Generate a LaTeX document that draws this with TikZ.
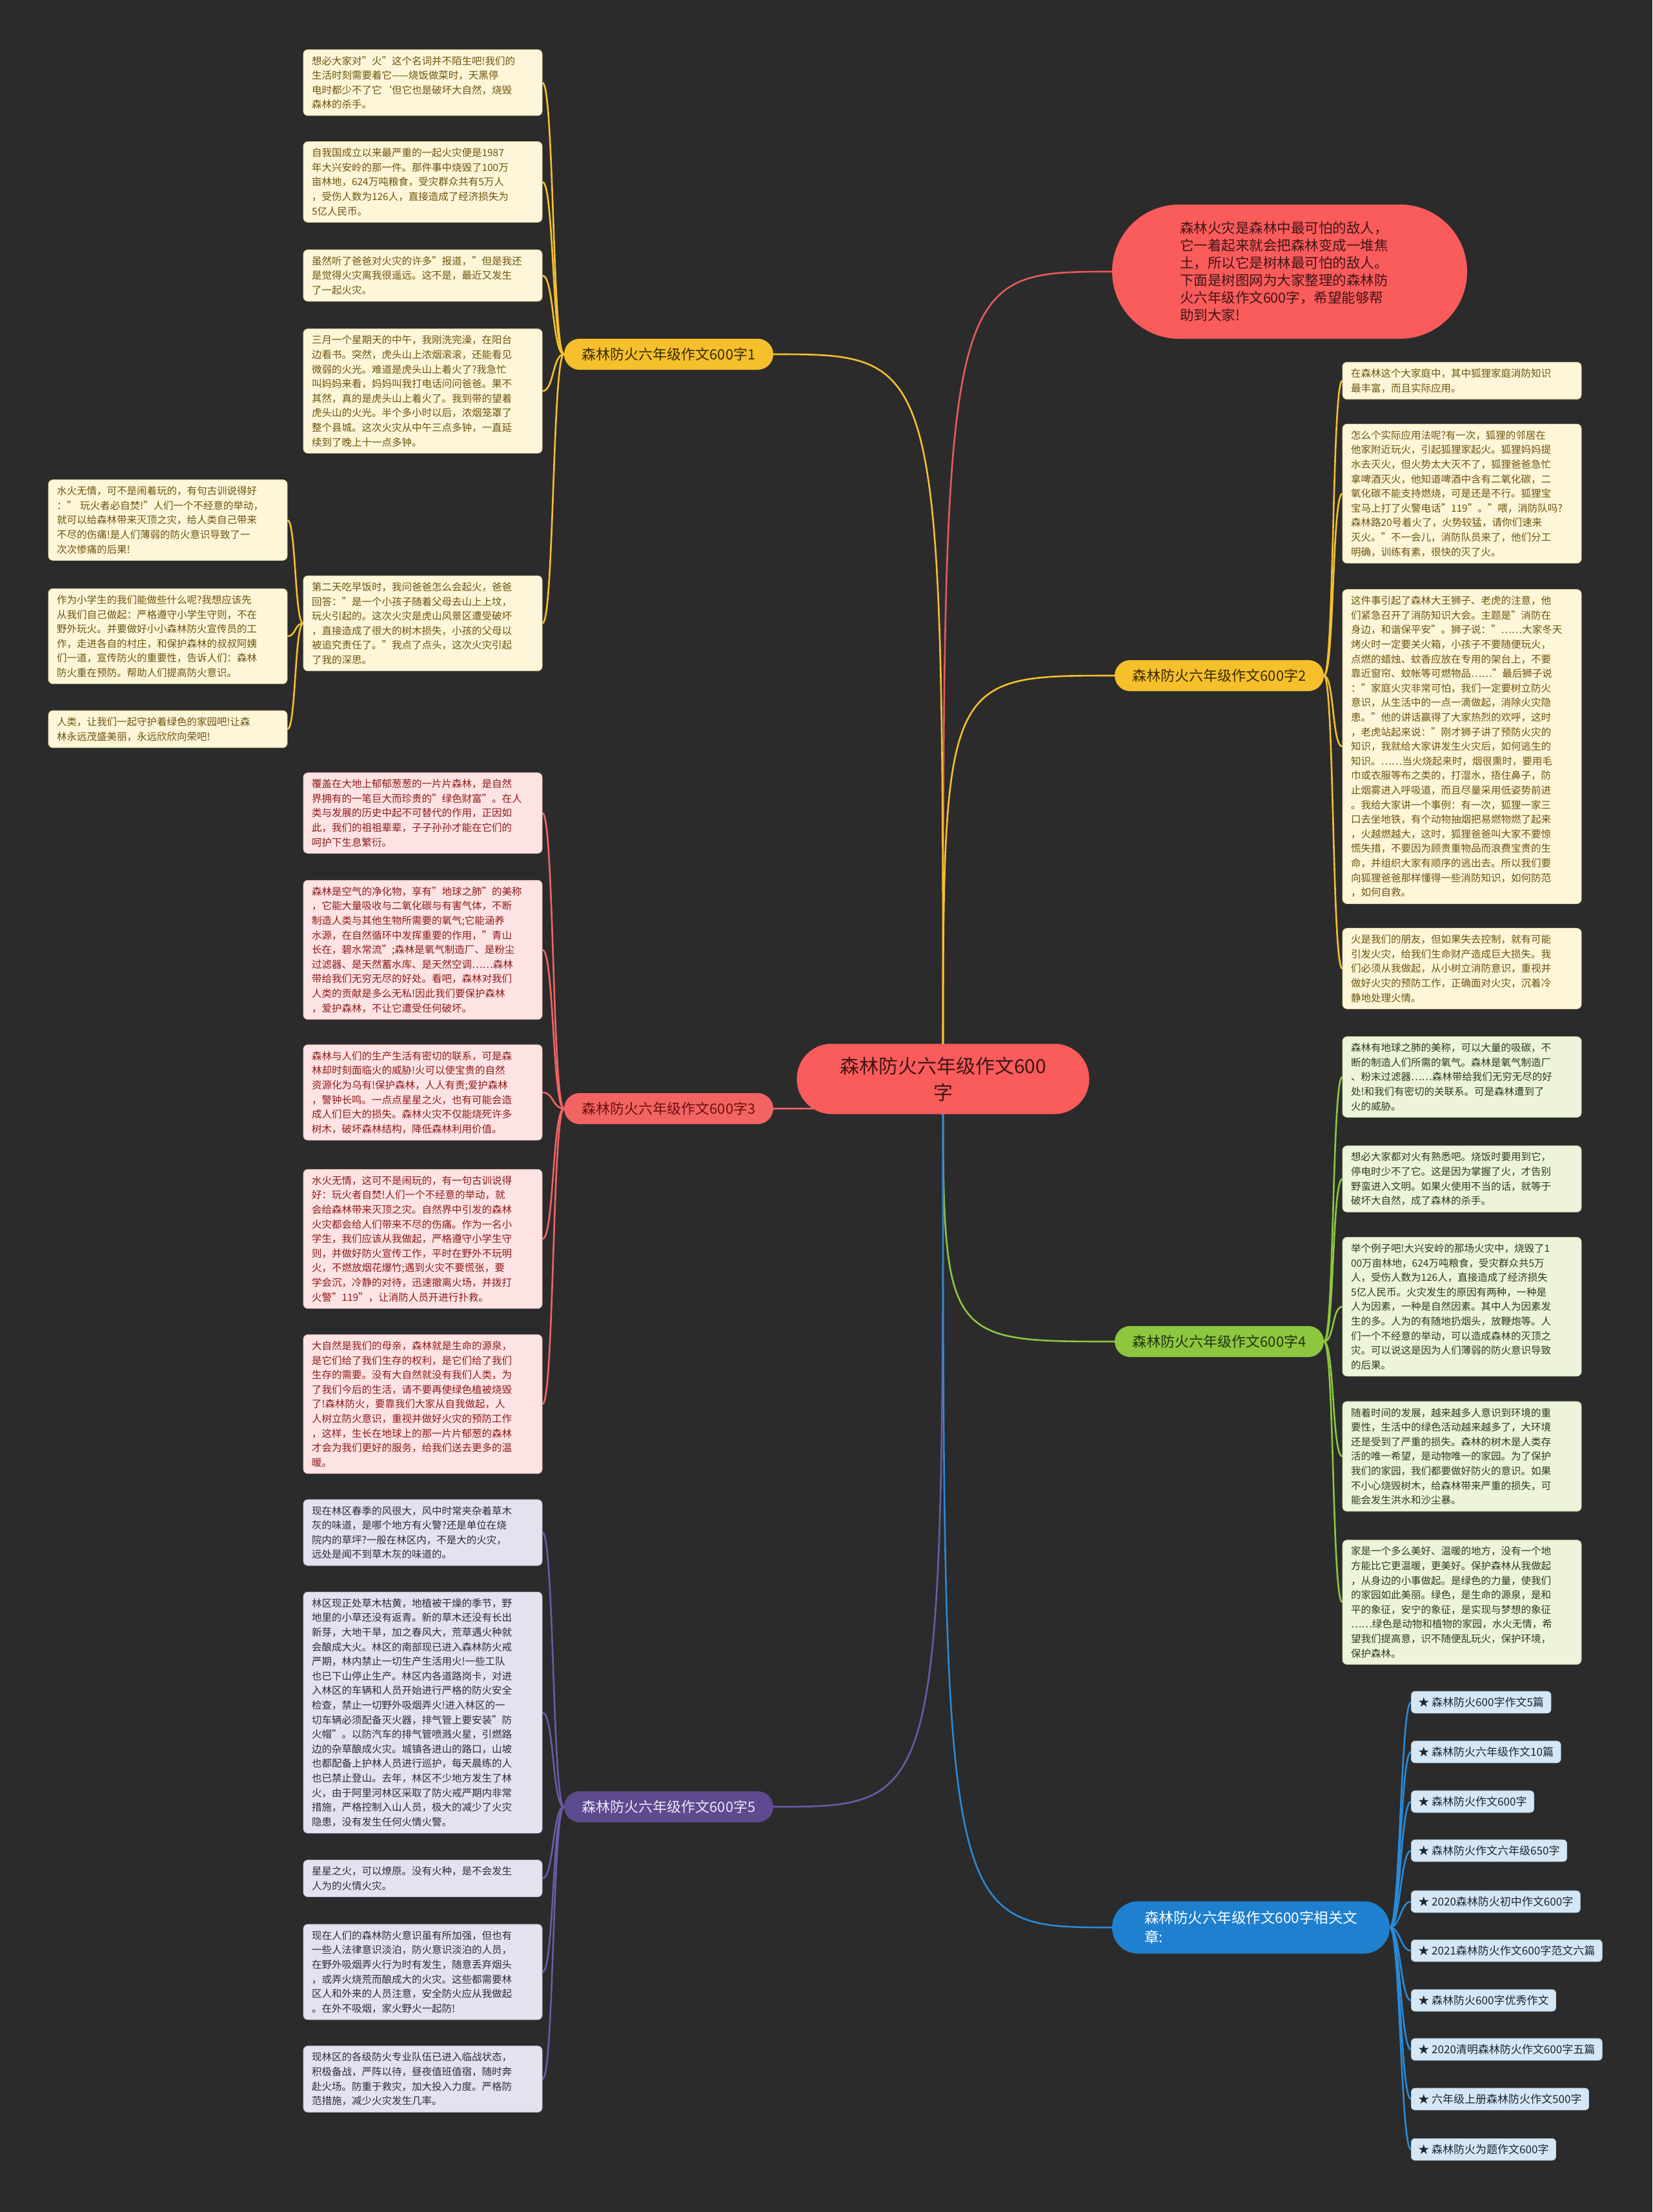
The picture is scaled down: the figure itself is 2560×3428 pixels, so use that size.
\documentclass[tikz,border=0pt]{standalone}
\usepackage{fontspec}
\setmainfont{Noto Sans CJK SC}
\usetikzlibrary{calc}
\pgfdeclarelayer{back}
\pgfdeclarelayer{lines}
\pgfsetlayers{back,lines,main}
\definecolor{bgc}{HTML}{2B2B2B}
\definecolor{ylw}{HTML}{F5C02C}
\definecolor{ylwt}{HTML}{3A2C00}
\definecolor{creamf}{HTML}{FEF6D8}
\definecolor{creamd}{HTML}{E8D9A8}
\definecolor{creamt}{HTML}{6E5410}
\definecolor{redn}{HTML}{FA5B5B}
\definecolor{redt}{HTML}{3E1616}
\definecolor{redl}{HTML}{E85A5A}
\definecolor{pinkn}{HTML}{F26462}
\definecolor{pinkf}{HTML}{FDE3E3}
\definecolor{pinkd}{HTML}{EDBABA}
\definecolor{pinkt}{HTML}{8E1B1B}
\definecolor{pinknt}{HTML}{6E0F0F}
\definecolor{grn}{HTML}{8DC63F}
\definecolor{grnf}{HTML}{EDF4DB}
\definecolor{grnd}{HTML}{C9DCA4}
\definecolor{grnt}{HTML}{2F3A1C}
\definecolor{grnnt}{HTML}{22330F}
\definecolor{prp}{HTML}{5E4A8E}
\definecolor{prpl}{HTML}{6C5AA6}
\definecolor{prpf}{HTML}{E5E1EE}
\definecolor{prpd}{HTML}{C2BAD6}
\definecolor{prpt}{HTML}{2E2A3A}
\definecolor{prpnt}{HTML}{ECE8F6}
\definecolor{blu}{HTML}{1F80D0}
\definecolor{blul}{HTML}{2A8AD8}
\definecolor{bluf}{HTML}{D5E7F4}
\definecolor{blud}{HTML}{A9CBE5}
\definecolor{blut}{HTML}{1A2633}
\tikzset{
  leafbase/.style={rounded corners=7pt, text width=344pt, align=left, inner xsep=13pt, inner ysep=10pt, font=\fontsize{15.5}{22.6}\selectfont, line width=0.8pt},
  cream/.style={leafbase, fill=creamf, draw=creamd, text=creamt},
  pinkleaf/.style={leafbase, fill=pinkf, draw=pinkd, text=pinkt},
  grnleaf/.style={leafbase, fill=grnf, draw=grnd, text=grnt},
  prpleaf/.style={leafbase, fill=prpf, draw=prpd, text=prpt},
  relleaf/.style={rounded corners=6pt, fill=bluf, draw=blud, text=blut, line width=0.8pt, inner xsep=11pt, inner ysep=9pt, font=\fontsize{17}{20}\selectfont, anchor=west},
  branchbox/.style={rounded corners=23.9pt, minimum width=324pt, minimum height=48pt, inner sep=0pt, font=\fontsize{22}{26}\selectfont},
  conn/.style={line width=2.6pt},
}
\begin{document}
\begin{tikzpicture}[x=1pt, y=-1pt]
\useasboundingbox (0,0) rectangle (2560,3428);
\begin{pgfonlayer}{back}
\fill[bgc] (0,0) rectangle (2560,3428);
\end{pgfonlayer}

% center and intro
\node[fill=redn, text=redt, rounded corners=54pt, minimum width=453pt, minimum height=109pt, align=center, inner sep=0pt, font=\fontsize{30}{41}\selectfont] (c) at (1461,1672) {森林防火六年级作文600\\字};
\node[fill=redn, text=redt, rounded corners=103.9pt, minimum width=550pt, minimum height=208pt, text width=340pt, align=left, inner sep=0pt, font=\fontsize{21.5}{27}\selectfont] (intro) at (1998,421) {森林火灾是森林中最可怕的敌人，\\它一着起来就会把森林变成一堆焦\\土，所以它是树林最可怕的敌人。\\下面是树图网为大家整理的森林防\\火六年级作文600字，希望能够帮\\助到大家!};

% branches
\node[branchbox, fill=ylw, text=ylwt] (b1) at (1036,549) {森林防火六年级作文600字1};
\node[branchbox, fill=ylw, text=ylwt] (b2) at (1889,1047) {森林防火六年级作文600字2};
\node[branchbox, fill=pinkn, text=pinknt] (b3) at (1036,1718) {森林防火六年级作文600字3};
\node[branchbox, fill=grn, text=grnnt] (b4) at (1889,2079) {森林防火六年级作文600字4};
\node[branchbox, fill=prp, text=prpnt] (b5) at (1036,2800) {森林防火六年级作文600字5};
\node[fill=blu, text=white, rounded corners=40pt, minimum width=430pt, minimum height=81pt, align=left, inner sep=0pt, font=\fontsize{22.5}{30}\selectfont] (b6) at (1938,2987) {森林防火六年级作文600字相关文\\章:};

% branch 1 leaves
\node[cream] (l1) at (655,128) {想必大家对"火"这个名词并不陌生吧!我们的\\生活时刻需要着它——烧饭做菜时，天黑停\\电时都少不了它‘但它也是破坏大自然，烧毁\\森林的杀手。};
\node[cream] (l2) at (655,282) {自我国成立以来最严重的一起火灾便是1987\\年大兴安岭的那一件。那件事中烧毁了100万\\亩林地，624万吨粮食，受灾群众共有5万人\\，受伤人数为126人，直接造成了经济损失为\\5亿人民币。};
\node[cream] (l3) at (655,427) {虽然听了爸爸对火灾的许多"报道，"但是我还\\是觉得火灾离我很遥远。这不是，最近又发生\\了一起火灾。};
\node[cream] (l4) at (655,606) {三月一个星期天的中午，我刚洗完澡，在阳台\\边看书。突然，虎头山上浓烟滚滚，还能看见\\微弱的火光。难道是虎头山上着火了?我急忙\\叫妈妈来看，妈妈叫我打电话问问爸爸。果不\\其然，真的是虎头山上着火了。我到带的望着\\虎头山的火光。半个多小时以后，浓烟笼罩了\\整个县城。这次火灾从中午三点多钟，一直延\\续到了晚上十一点多钟。};
\node[cream] (l5) at (655,966) {第二天吃早饭时，我问爸爸怎么会起火，爸爸\\回答："是一个小孩子随着父母去山上上坟，\\玩火引起的。这次火灾是虎山风景区遭受破坏\\，直接造成了很大的树木损失，小孩的父母以\\被追究责任了。"我点了点头，这次火灾引起\\了我的深思。};
\node[cream] (s1) at (260,806) {水火无情，可不是闹着玩的，有句古训说得好\\：" 玩火者必自焚!"人们一个不经意的举动，\\就可以给森林带来灭顶之灾，给人类自己带来\\不尽的伤痛!是人们薄弱的防火意识导致了一\\次次惨痛的后果!};
\node[cream] (s2) at (260,986) {作为小学生的我们能做些什么呢?我想应该先\\从我们自己做起：严格遵守小学生守则，不在\\野外玩火。并要做好小小森林防火宣传员的工\\作，走进各自的村庄，和保护森林的叔叔阿姨\\们一道，宣传防火的重要性，告诉人们：森林\\防火重在预防。帮助人们提高防火意识。};
\node[cream] (s3) at (260,1130) {人类，让我们一起守护着绿色的家园吧!让森\\林永远茂盛美丽，永远欣欣向荣吧!};

% branch 2 leaves
\node[cream] (r1) at (2265,590) {在森林这个大家庭中，其中狐狸家庭消防知识\\最丰富，而且实际应用。};
\node[cream] (r2) at (2265,765) {怎么个实际应用法呢?有一次，狐狸的邻居在\\他家附近玩火，引起狐狸家起火。狐狸妈妈提\\水去灭火，但火势太大灭不了，狐狸爸爸急忙\\拿啤酒灭火，他知道啤酒中含有二氧化碳，二\\氧化碳不能支持燃烧，可是还是不行。狐狸宝\\宝马上打了火警电话"119"。"喂，消防队吗?\\森林路20号着火了，火势较猛，请你们速来\\灭火。"不一会儿，消防队员来了，他们分工\\明确，训练有素，很快的灭了火。};
\node[cream] (r3) at (2265,1157) {这件事引起了森林大王狮子、老虎的注意，他\\们紧急召开了消防知识大会。主题是"消防在\\身边，和谐保平安"。狮子说："……大家冬天\\烤火时一定要关火箱，小孩子不要随便玩火，\\点燃的蜡烛、蚊香应放在专用的架台上，不要\\靠近窗帘、蚊帐等可燃物品……"最后狮子说\\："家庭火灾非常可怕，我们一定要树立防火\\意识，从生活中的一点一滴做起，消除火灾隐\\患。"他的讲话赢得了大家热烈的欢呼，这时\\，老虎站起来说："刚才狮子讲了预防火灾的\\知识，我就给大家讲发生火灾后，如何逃生的\\知识。……当火烧起来时，烟很熏时，要用毛\\巾或衣服等布之类的，打湿水，捂住鼻子，防\\止烟雾进入呼吸道，而且尽量采用低姿势前进\\。我给大家讲一个事例：有一次，狐狸一家三\\口去坐地铁，有个动物抽烟把易燃物燃了起来\\，火越燃越大，这时，狐狸爸爸叫大家不要惊\\慌失措，不要因为顾贵重物品而浪费宝贵的生\\命，并组织大家有顺序的逃出去。所以我们要\\向狐狸爸爸那样懂得一些消防知识，如何防范\\，如何自救。};
\node[cream] (r4) at (2265,1501) {火是我们的朋友，但如果失去控制，就有可能\\引发火灾，给我们生命财产造成巨大损失。我\\们必须从我做起，从小树立消防意识，重视并\\做好火灾的预防工作，正确面对火灾，沉着冷\\静地处理火情。};

% branch 3 leaves
\node[pinkleaf] (p1) at (655,1260) {覆盖在大地上郁郁葱葱的一片片森林，是自然\\界拥有的一笔巨大而珍贵的"绿色财富"。在人\\类与发展的历史中起不可替代的作用，正因如\\此，我们的祖祖辈辈，子子孙孙才能在它们的\\呵护下生息繁衍。};
\node[pinkleaf] (p2) at (655,1472) {森林是空气的净化物，享有"地球之肺"的美称\\，它能大量吸收与二氧化碳与有害气体，不断\\制造人类与其他生物所需要的氧气;它能涵养\\水源，在自然循环中发挥重要的作用，"青山\\长在，碧水常流";森林是氧气制造厂、是粉尘\\过滤器、是天然蓄水库、是天然空调……森林\\带给我们无穷无尽的好处。看吧，森林对我们\\人类的贡献是多么无私!因此我们要保护森林\\，爱护森林，不让它遭受任何破坏。};
\node[pinkleaf] (p3) at (655,1693) {森林与人们的生产生活有密切的联系，可是森\\林却时刻面临火的威胁!火可以使宝贵的自然\\资源化为乌有!保护森林，人人有责;爱护森林\\，警钟长鸣。一点点星星之火，也有可能会造\\成人们巨大的损失。森林火灾不仅能烧死许多\\树木，破坏森林结构，降低森林利用价值。};
\node[pinkleaf] (p4) at (655,1920) {水火无情，这可不是闹玩的，有一句古训说得\\好：玩火者自焚!人们一个不经意的举动，就\\会给森林带来灭顶之灾。自然界中引发的森林\\火灾都会给人们带来不尽的伤痛。作为一名小\\学生，我们应该从我做起，严格遵守小学生守\\则，并做好防火宣传工作，平时在野外不玩明\\火，不燃放烟花爆竹;遇到火灾不要慌张，要\\学会沉，冷静的对待，迅速撤离火场，并拨打\\火警"119"，让消防人员开进行扑救。};
\node[pinkleaf] (p5) at (655,2176) {大自然是我们的母亲，森林就是生命的源泉，\\是它们给了我们生存的权利，是它们给了我们\\生存的需要。没有大自然就没有我们人类，为\\了我们今后的生活，请不要再使绿色植被烧毁\\了!森林防火，要靠我们大家从自我做起，人\\人树立防火意识，重视并做好火灾的预防工作\\，这样，生长在地球上的那一片片郁葱的森林\\才会为我们更好的服务，给我们送去更多的温\\暖。};

% branch 4 leaves
\node[grnleaf] (g1) at (2265,1669) {森林有地球之肺的美称，可以大量的吸碳，不\\断的制造人们所需的氧气。森林是氧气制造厂\\、粉末过滤器……森林带给我们无穷无尽的好\\处!和我们有密切的关联系。可是森林遭到了\\火的威胁。};
\node[grnleaf] (g2) at (2265,1827) {想必大家都对火有熟悉吧。烧饭时要用到它，\\停电时少不了它。这是因为掌握了火，才告别\\野蛮进入文明。如果火使用不当的话，就等于\\破坏大自然，成了森林的杀手。};
\node[grnleaf] (g3) at (2265,2025) {举个例子吧!大兴安岭的那场火灾中，烧毁了1\\00万亩林地，624万吨粮食，受灾群众共5万\\人，受伤人数为126人，直接造成了经济损失\\5亿人民币。火灾发生的原因有两种，一种是\\人为因素，一种是自然因素。其中人为因素发\\生的多。人为的有随地扔烟头，放鞭炮等。人\\们一个不经意的举动，可以造成森林的灭顶之\\灾。可以说这是因为人们薄弱的防火意识导致\\的后果。};
\node[grnleaf] (g4) at (2265,2257) {随着时间的发展，越来越多人意识到环境的重\\要性，生活中的绿色活动越来越多了，大环境\\还是受到了严重的损失。森林的树木是人类存\\活的唯一希望，是动物唯一的家园。为了保护\\我们的家园，我们都要做好防火的意识。如果\\不小心烧毁树木，给森林带来严重的损失，可\\能会发生洪水和沙尘暴。};
\node[grnleaf] (g5) at (2265,2483) {家是一个多么美好、温暖的地方，没有一个地\\方能比它更温暖，更美好。保护森林从我做起\\，从身边的小事做起。是绿色的力量，使我们\\的家园如此美丽。绿色，是生命的源泉，是和\\平的象征，安宁的象征，是实现与梦想的象征\\……绿色是动物和植物的家园，水火无情，希\\望我们提高意，识不随便乱玩火，保护环境，\\保护森林。};

% branch 5 leaves
\node[prpleaf] (v1) at (655,2375) {现在林区春季的风很大，风中时常夹杂着草木\\灰的味道，是哪个地方有火警?还是单位在烧\\院内的草坪?一般在林区内，不是大的火灾，\\远处是闻不到草木灰的味道的。};
\node[prpleaf] (v2) at (655,2654) {林区现正处草木枯黄，地植被干燥的季节，野\\地里的小草还没有返青。新的草木还没有长出\\新芽，大地干旱，加之春风大，荒草遇火种就\\会酿成大火。林区的南部现已进入森林防火戒\\严期，林内禁止一切生产生活用火!一些工队\\也已下山停止生产。林区内各道路岗卡，对进\\入林区的车辆和人员开始进行严格的防火安全\\检查，禁止一切野外吸烟弄火!进入林区的一\\切车辆必须配备灭火器，排气管上要安装"防\\火帽"。以防汽车的排气管喷溅火星，引燃路\\边的杂草酿成火灾。城镇各进山的路口，山坡\\也都配备上护林人员进行巡护，每天晨练的人\\也已禁止登山。去年，林区不少地方发生了林\\火，由于阿里河林区采取了防火戒严期内非常\\措施，严格控制入山人员，极大的减少了火灾\\隐患，没有发生任何火情火警。};
\node[prpleaf] (v3) at (655,2911) {星星之火，可以燎原。没有火种，是不会发生\\人为的火情火灾。};
\node[prpleaf] (v4) at (655,3056) {现在人们的森林防火意识虽有所加强，但也有\\一些人法律意识淡泊，防火意识淡泊的人员，\\在野外吸烟弄火行为时有发生，随意丢弃烟头\\，或弄火烧荒而酿成大的火灾。这些都需要林\\区人和外来的人员注意，安全防火应从我做起\\。在外不吸烟，家火野火一起防!};
\node[prpleaf] (v5) at (655,3222) {现林区的各级防火专业队伍已进入临战状态，\\积极备战，严阵以待，昼夜值班值宿，随时奔\\赴火场。防重于救灾，加大投入力度。严格防\\范措施，减少火灾发生几率。};

% related
\node[relleaf] (a1) at (2186,2638) {★ 森林防火600字作文5篇};
\node[relleaf] (a2) at (2186,2715) {★ 森林防火六年级作文10篇};
\node[relleaf] (a3) at (2186,2792) {★ 森林防火作文600字};
\node[relleaf] (a4) at (2186,2868) {★ 森林防火作文六年级650字};
\node[relleaf] (a5) at (2186,2947) {★ 2020森林防火初中作文600字};
\node[relleaf] (a6) at (2186,3023) {★ 2021森林防火作文600字范文六篇};
\node[relleaf] (a7) at (2186,3100) {★ 森林防火600字优秀作文};
\node[relleaf] (a8) at (2186,3176) {★ 2020清明森林防火作文600字五篇};
\node[relleaf] (a9) at (2186,3253) {★ 六年级上册森林防火作文500字};
\node[relleaf] (a10) at (2186,3331) {★ 森林防火为题作文600字};

\begin{pgfonlayer}{lines}
% center to branches
\draw[conn, redl] (c.center) .. controls (c.center |- intro.west) .. (intro.west);
\draw[conn, ylw] (c.center) .. controls (c.center |- b1.east) .. (b1.east);
\draw[conn, ylw] (c.center) .. controls (c.center |- b2.west) .. (b2.west);
\draw[conn, pinkn] (c.center) .. controls (c.center |- b3.east) .. (b3.east);
\draw[conn, grn] (c.center) .. controls (c.center |- b4.west) .. (b4.west);
\draw[conn, prpl] (c.center) .. controls (c.center |- b5.east) .. (b5.east);
\draw[conn, blul] (c.center) .. controls (c.center |- b6.west) .. (b6.west);
% left leaves
\foreach \n in {l1,l2,l3,l4,l5}
  \draw[conn, ylw] (b1.west) .. controls +(-18,0) and +(18,0) .. (\n.east);
\foreach \n in {s1,s2,s3}
  \draw[conn, ylw] (l5.west) .. controls +(-13,0) and +(13,0) .. (\n.east);
\foreach \n in {p1,p2,p3,p4,p5}
  \draw[conn, pinkn] (b3.west) .. controls +(-18,0) and +(18,0) .. (\n.east);
\foreach \n in {v1,v2,v3,v4,v5}
  \draw[conn, prpl] (b5.west) .. controls +(-18,0) and +(18,0) .. (\n.east);
% right leaves
\foreach \n in {r1,r2,r3,r4}
  \draw[conn, ylw] (b2.east) .. controls +(16,0) and +(-16,0) .. (\n.west);
\foreach \n in {g1,g2,g3,g4,g5}
  \draw[conn, grn] (b4.east) .. controls +(16,0) and +(-16,0) .. (\n.west);
\foreach \n in {a1,a2,a3,a4,a5,a6,a7,a8,a9,a10}
  \draw[conn, blul] (b6.east) .. controls +(16,0) and +(-16,0) .. (\n.west);
\end{pgfonlayer}
\end{tikzpicture}
\end{document}
